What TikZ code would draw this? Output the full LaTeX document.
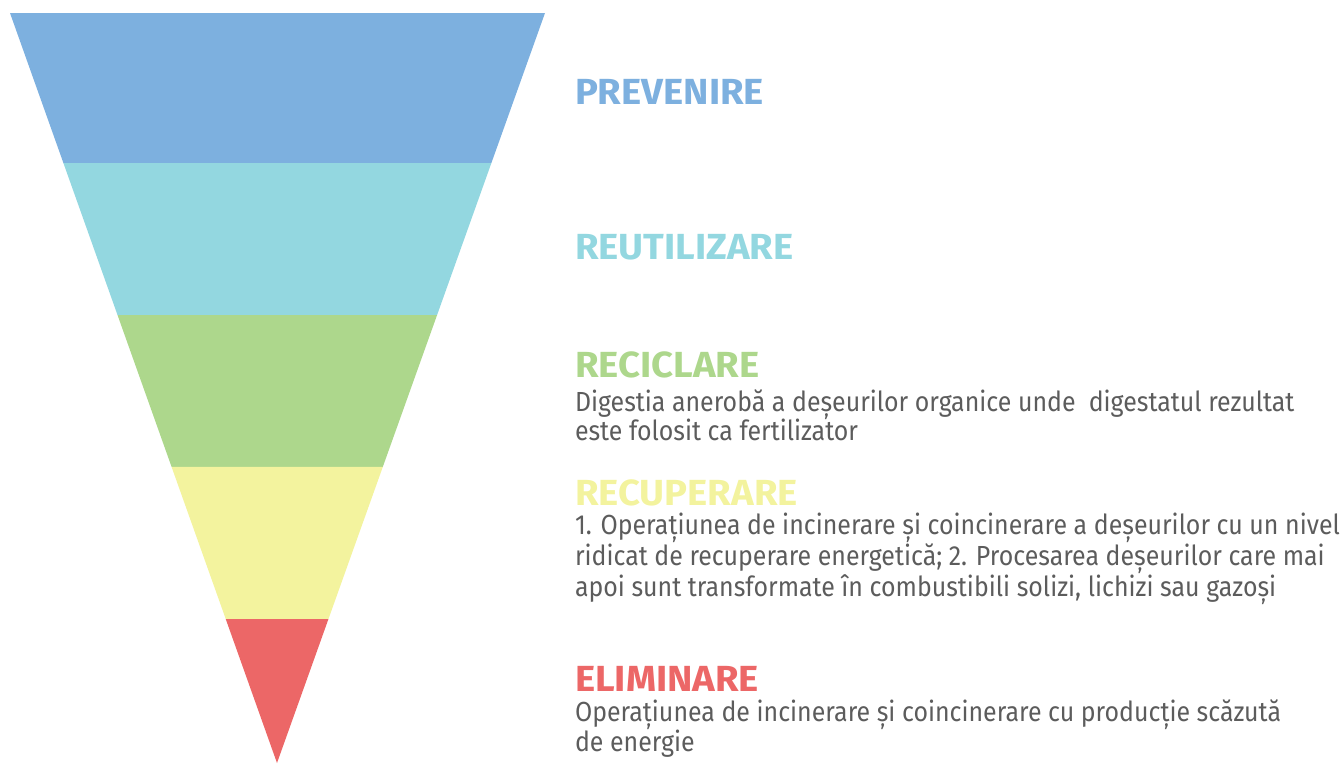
\documentclass[tikz,border=0pt]{standalone}
\usepackage{fontspec}
\setmainfont{Fira Sans}
\newfontfamily\bodyfont{Fira Sans}[FakeStretch=0.903]
\newfontfamily\titlefont{Fira Sans}[FakeStretch=1.055]
\usetikzlibrary{calc}
\definecolor{cblue}{HTML}{7DB0DF}
\definecolor{ccyan}{HTML}{93D7E0}
\definecolor{cgreen}{HTML}{ADD78C}
\definecolor{cyellow}{HTML}{F3F39E}
\definecolor{cred}{HTML}{EC6767}
\definecolor{ctext}{HTML}{5C5C5C}
\tikzset{
  band/.style={draw=none},
  title/.style={anchor=base west, inner sep=0pt, outer sep=0pt,
    font=\titlefont\bfseries\fontsize{36.3}{40}\selectfont},
  body/.style={anchor=base west, inner sep=0pt, outer sep=0pt, text=ctext,
    font=\bodyfont\fontsize{27.6}{31}\selectfont}
}
\begin{document}
\begin{tikzpicture}[x=1pt,y=-1pt]
\useasboundingbox (0,0) rectangle (1341,763);
% funnel corners
\coordinate (TL) at (10,13);
\coordinate (TR) at (545,13);
\coordinate (AP) at (277,763);
\coordinate (L1) at ($(TL)!0.2!(AP)$);   \coordinate (R1) at ($(TR)!0.2!(AP)$);
\coordinate (L2) at ($(TL)!0.4027!(AP)$); \coordinate (R2) at ($(TR)!0.4027!(AP)$);
\coordinate (L3) at ($(TL)!0.6053!(AP)$); \coordinate (R3) at ($(TR)!0.6053!(AP)$);
\coordinate (L4) at ($(TL)!0.808!(AP)$);  \coordinate (R4) at ($(TR)!0.808!(AP)$);
\fill[band, cblue]   (TL) -- (TR) -- (R1) -- (L1) -- cycle;
\fill[band, ccyan]   (L1) -- (R1) -- (R2) -- (L2) -- cycle;
\fill[band, cgreen]  (L2) -- (R2) -- (R3) -- (L3) -- cycle;
\fill[band, cyellow] (L3) -- (R3) -- (R4) -- (L4) -- cycle;
\fill[band, cred]    (L4) -- (R4) -- (AP) -- cycle;
% texts
\node[title, text=cblue] (t1) at (575,104.3) {PREVENIRE};
\node[title, text=ccyan] (t2) at (575,259.3) {REUTILIZARE};
\node[title, text=cgreen] (t3) at (575,377.3) {RECICLARE};
\node[body] (b31) at (575,411) {Digestia anerobă a deșeurilor organice unde \ digestatul rezultat};
\node[body] (b32) at (575,440.7) {este folosit ca fertilizator};
\node[title, text=cyellow] (t4) at (575,505.7) {RECUPERARE};
\node[body] (b41) at (575,534.5) {1. Operațiunea de incinerare și coincinerare a deșeurilor cu un nivel};
\node[body] (b42) at (575,565.5) {ridicat de recuperare energetică; 2. Procesarea deșeurilor care mai};
\node[body] (b43) at (575,596.5) {apoi sunt transformate în combustibili solizi, lichizi sau gazoși};
\node[title, text=cred] (t5) at (575,691.7) {ELIMINARE};
\node[body] (b51) at (575,721) {Operațiunea de incinerare și coincinerare cu producție scăzută};
\node[body] (b52) at (575,751.7) {de energie};
\end{tikzpicture}
\end{document}
